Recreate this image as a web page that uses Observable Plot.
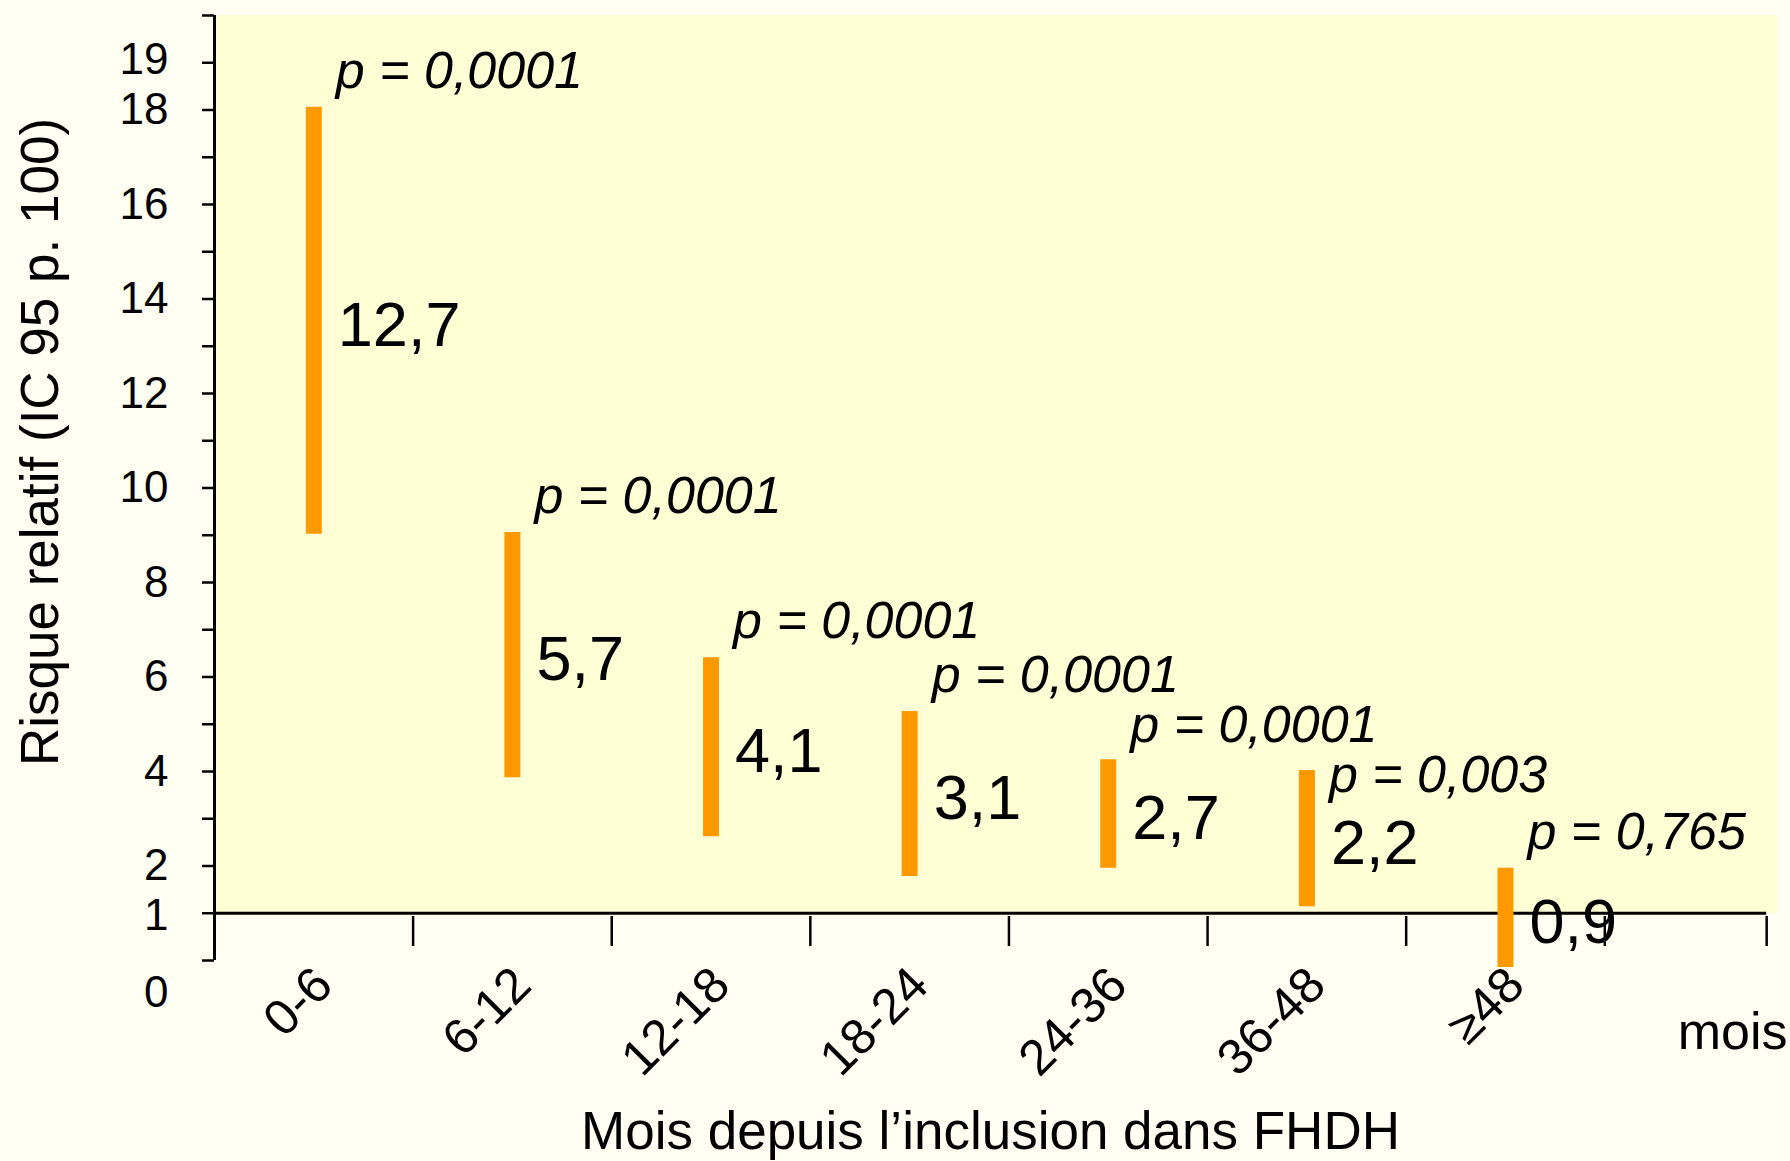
<!DOCTYPE html>
<html>
<head>
<meta charset="utf-8">
<script src="https://cdn.jsdelivr.net/npm/d3@7"></script>
<script src="https://cdn.jsdelivr.net/npm/@observablehq/plot@0.6"></script>
<style>
  html, body { margin: 0; padding: 0; background: #FFFFF3; }
  #chart { width: 1790px; height: 1161px; }
</style>
</head>
<body>
<div id="chart"></div>
<script>
// ---- data ----
const periods  = ["0-6", "6-12", "12-18", "18-24", "24-36", "36-48", "≥48"];
const rrValues = [12.7, 5.7, 4.1, 3.1, 2.7, 2.2, 0.9];
const rrLabels = ["12,7", "5,7", "4,1", "3,1", "2,7", "2,2", "0,9"];
const ciLow    = [9.02, 3.87, 2.62, 1.78, 1.95, 1.14, -0.15];
const ciHigh   = [18.06, 9.06, 6.41, 5.27, 4.25, 4.02, 1.95];
const pValues  = ["0,0001", "0,0001", "0,0001", "0,0001", "0,0001", "0,003", "0,765"];
const yTicks      = d3.range(0, 21);
const yTickLabels = [2, 4, 6, 8, 10, 12, 14, 16, 18];
const yTopLabel   = [19];
const yOneLabel   = [1];
const yZeroLabel  = [0];
const yTitle = "Risque relatif (IC 95 p. 100)";
const xTitle = "Mois depuis l’inclusion dans FHDH";
const xUnit  = "mois";

// ---- layout constants ----
const W = 1790, H = 1161, M_LEFT = 214, M_RIGHT = 0, M_TOP = 15, M_BOTTOM = 201;
const Y_DOMAIN = [0, 20];
const X_DOMAIN = [0, 7.935];
const X_AXIS_END = 7.815;
const P_FONT = 52;
const TICK_FONT = 44;
const pxPerY = (H - M_TOP - M_BOTTOM) / (Y_DOMAIN[1] - Y_DOMAIN[0]);
const pxPerX = (W - M_LEFT - M_RIGHT) / (X_DOMAIN[1] - X_DOMAIN[0]);

// ---- table built from the arrays ----
const rows = periods.map((period, i) => ({
  period, i,
  rr: rrValues[i], label: rrLabels[i],
  low: ciLow[i], high: ciHigh[i],
  p: "p = " + pValues[i]
}));

// p-value labels sit above each bar's top; a label that would collide with the
// previous one is pushed down below it (simple collision avoidance)
const P_LIFT = 36, P_SEP = 50;
let prev = null;
for (const r of rows) {
  let c = r.high + P_LIFT / pxPerY;
  const w = r.p.length * 0.48 * P_FONT;
  if (prev && (r.i - prev.i) * pxPerX < prev.w && (prev.c - c) * pxPerY < P_SEP) {
    c = prev.c - P_SEP / pxPerY;
  }
  r.pY = c;
  prev = { i: r.i, c, w };
}

const xBoundaries = d3.range(1, periods.length + 1).concat([X_AXIS_END]);

const FONT = "'Liberation Sans', Arial, Helvetica, sans-serif";
const yLabelAxis = (ticks, dy) => Plot.axisY({
  ticks, tickSize: 0, tickPadding: 46, fontSize: TICK_FONT, label: null, dy, tickFormat: d => String(d)
});

const chart = Plot.plot({
  width: W,
  height: H,
  marginLeft: M_LEFT,
  marginRight: M_RIGHT,
  marginTop: M_TOP,
  marginBottom: M_BOTTOM,
  style: { background: "#FFFFF3", color: "#000", fontFamily: FONT, overflow: "visible" },
  x: { domain: X_DOMAIN, axis: null },
  y: { domain: Y_DOMAIN, axis: null },
  marks: [
    // plot background
    Plot.rect([{}], { x1: () => 0, x2: () => 7.87, y1: () => 1, y2: () => 20, fill: "#FFFFD5" }),
    // y axis ticks (all integers)
    Plot.axisY({ ticks: yTicks, tickSize: 12, tickFormat: () => "", label: null, strokeWidth: 2.5 }),
    // y tick labels
    yLabelAxis(yTickLabels, 0),
    yLabelAxis(yTopLabel, -3),
    yLabelAxis(yOneLabel, 3),
    yLabelAxis(yZeroLabel, 32),
    // y axis line
    Plot.ruleX([0], { strokeWidth: 3 }),
    // x axis ticks (below the line at y = 1)
    Plot.axisX({ ticks: xBoundaries, tickSize: 30, tickFormat: () => "", label: null, dy: -44, strokeWidth: 2.5 }),
    // x axis line at RR = 1
    Plot.ruleY([1], { x1: () => 0, x2: () => X_AXIS_END, strokeWidth: 3 }),
    // confidence-interval bars
    Plot.ruleX(rows, { x: d => d.i + 0.5, y1: "low", y2: "high", stroke: "#FF9900", strokeWidth: 16, strokeLinecap: "butt" }),
    // RR value labels
    Plot.text(rows, { x: d => d.i + 0.5, y: d => (d.low + d.high) / 2, text: "label", textAnchor: "start", dx: 24, dy: 5, fontSize: 63 }),
    // p-value labels
    Plot.text(rows, { x: d => d.i + 0.5, y: "pY", text: "p", textAnchor: "start", dx: 22, fontSize: P_FONT, fontStyle: "italic" }),
    // category labels, rotated
    Plot.text(rows, { x: d => d.i + 0.5, frameAnchor: "bottom", text: "period", rotate: -45, textAnchor: "end", lineAnchor: "middle", dx: 10, dy: 16, fontSize: 50 }),
    // titles
    Plot.text([yTitle], { text: d => d, frameAnchor: "left", textAnchor: "middle", rotate: -90, dx: -173, dy: -46, fontSize: 53 }),
    Plot.text([xTitle], { text: d => d, frameAnchor: "bottom", textAnchor: "middle", dx: -12, dy: 188, fontSize: 53 }),
    Plot.text([xUnit], { text: d => d, frameAnchor: "bottom-right", textAnchor: "end", dx: -3, dy: 88, fontSize: 52 })
  ]
});
document.getElementById("chart").appendChild(chart);
</script>
</body>
</html>
